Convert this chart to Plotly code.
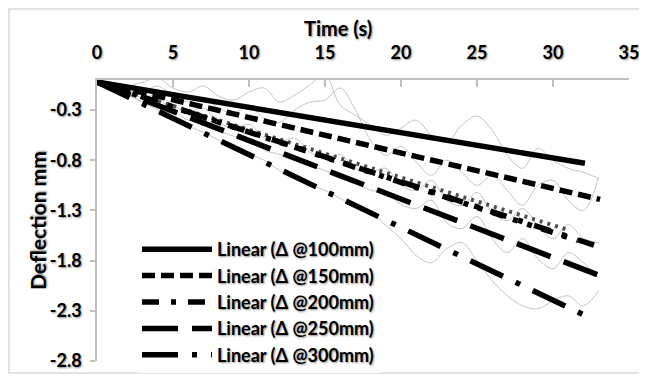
import plotly.graph_objects as go

# ---- data ----
times = [0, 1, 2, 3, 4, 5, 6, 7, 8, 9, 10, 11, 12, 13, 14, 15, 16,
         17, 18, 19, 20, 21, 22, 23, 24, 25, 26, 27, 28, 29, 30, 31, 32, 33]

raw_100 = [0.00, -0.03, -0.06, -0.02, 0.02, -0.08, -0.12, -0.06, -0.16, -0.20, -0.12, -0.08,
           -0.22, -0.15, -0.05, 0.05, -0.25, -0.35, -0.45, -0.55, -0.48, -0.40, -0.55, -0.62,
           -0.45, -0.36, -0.50, -0.75, -0.88, -0.68, -0.80, -0.88, -0.92, -0.98]
raw_150 = [0.00, -0.04, -0.08, -0.12, -0.06, -0.16, -0.22, -0.18, -0.28, -0.33, -0.26, -0.38,
           -0.42, -0.30, -0.22, -0.20, -0.08, -0.30, -0.60, -0.75, -0.66, -0.82, -0.95, -0.80,
           -0.92, -1.05, -0.95, -1.10, -1.25, -1.05, -1.00, -1.20, -1.30, -0.97]
raw_200 = [0.00, -0.05, -0.10, -0.18, -0.14, -0.25, -0.32, -0.28, -0.42, -0.48, -0.44, -0.58,
           -0.62, -0.58, -0.72, -0.78, -0.74, -0.88, -0.92, -0.88, -1.05, -1.10, -1.00, -1.20,
           -1.25, -1.12, -1.32, -1.40, -1.28, -1.45, -1.58, -1.44, -1.58, -1.62]
raw_250 = [0.00, -0.06, -0.12, -0.22, -0.20, -0.30, -0.40, -0.42, -0.50, -0.56, -0.58, -0.70,
           -0.74, -0.80, -0.86, -0.90, -0.98, -1.02, -1.10, -1.12, -1.24, -1.28, -1.20, -1.42,
           -1.48, -1.36, -1.58, -1.72, -1.58, -1.78, -1.88, -1.72, -1.82, -1.97]
raw_300 = [0.00, -0.08, -0.15, -0.22, -0.30, -0.38, -0.46, -0.52, -0.60, -0.68, -0.74, -0.80,
           -0.90, -0.96, -1.04, -1.10, -1.18, -1.26, -1.32, -1.45, -1.58, -1.75, -1.82, -1.68,
           -1.62, -1.80, -2.00, -2.15, -2.25, -2.28, -2.20, -2.15, -2.25, -2.10]

trend_names = ["Linear (Δ @100mm)", "Linear (Δ @150mm)", "Linear (Δ @200mm)",
               "Linear (Δ @250mm)", "Linear (Δ @300mm)"]
trend_x_end = [32.1, 33.1, 33.0, 33.1, 32.3]
trend_y_start = [-0.02, -0.02, -0.02, -0.02, -0.02]
trend_y_end = [-0.83, -1.19, -1.66, -1.95, -2.36]

extra_x_end = [30.9, 31.6]
extra_y_end = [-1.49, -1.60]

x_ticks = [0, 5, 10, 15, 20, 25, 30, 35]
y_ticks = [-2.8, -2.3, -1.8, -1.3, -0.8, -0.3]
y_tick_text = ["-2.8", "-2.3", "-1.8", "-1.3", "-0.8", "-0.3"]

# ---- figure ----
FONT = "Lato"
FS = 18
SHADOW = "1px 1px 2px rgba(0,0,0,0.45)"

fig = go.Figure()

for series in [raw_100, raw_150, raw_200, raw_250, raw_300]:
    fig.add_trace(go.Scatter(x=times, y=series, mode="lines",
                             line=dict(color="#c4c4c4", width=1, shape="spline", smoothing=1),
                             showlegend=False, hoverinfo="skip"))

# hidden extra trend lines
extra_styles = [dict(color="#505050", width=4, dash="3px,5px"),
                dict(color="black", width=5.5, dash="12px,10px,5px,10px,5px,10px")]
for xe, ye, st in zip(extra_x_end, extra_y_end, extra_styles):
    fig.add_trace(go.Scatter(x=[0, xe], y=[-0.02, ye], mode="lines", line=st,
                             showlegend=False, hoverinfo="skip"))

dashes = ["solid", "13px,6px", "17px,12px,5px,12px", "36px,14px", "36px,14px,5px,14px"]
for name, xe, ys, ye, d in zip(trend_names, trend_x_end, trend_y_start, trend_y_end, dashes):
    fig.add_trace(go.Scatter(x=[0, xe], y=[ys, ye], mode="lines", name=name,
                             line=dict(color="black", width=5.5, dash=d)))

# page offset of the figure inside the browser (default body margin)
OFF = 8
W, H = 647 - OFF, 376 - OFF
L, T = 97 - OFF, 80 - OFF
R = W - (629 - OFF)
B = H - (361 - OFF)
pw, ph = W - L - R, H - T - B


def px(x_page):
    return (x_page - OFF - L) / pw


def py(y_page):
    return (T + ph - (y_page - OFF)) / ph


fig.update_layout(
    width=W, height=H,
    margin=dict(l=L, r=R, t=T, b=B, autoexpand=False),
    paper_bgcolor="white", plot_bgcolor="white",
    font=dict(family=FONT, size=FS, color="black", weight="bold", shadow=SHADOW),
    xaxis=dict(range=[0, 35], side="top", tickvals=x_ticks, ticks="inside", ticklen=7,
               tickcolor="#bfbfbf", tickwidth=1.5, showline=True, linecolor="#bfbfbf",
               linewidth=1.5, showgrid=False, zeroline=False, ticklabelstandoff=12,
               automargin=False,
               tickfont=dict(family=FONT, size=FS, weight="bold", shadow=SHADOW)),
    yaxis=dict(range=[-2.8, 0], tickvals=y_ticks, ticktext=y_tick_text, ticks="outside",
               ticklen=5, tickcolor="#bfbfbf", tickwidth=1.5, showline=True,
               linecolor="#bfbfbf", linewidth=1.5, showgrid=False, zeroline=False,
               ticklabelstandoff=5, automargin=False,
               tickfont=dict(family=FONT, size=FS, weight="bold", shadow=SHADOW)),
    legend=dict(x=px(137), y=py(231), xanchor="left", yanchor="top",
                bgcolor="white", borderwidth=0, itemwidth=70, tracegroupgap=0,
                font=dict(family=FONT, size=FS, weight="bold", shadow=SHADOW)),
    showlegend=True,
)

fig.add_annotation(text="Time (s)", xref="paper", yref="paper",
                   x=px(338), y=py(28), showarrow=False,
                   xanchor="center", yanchor="middle",
                   font=dict(family=FONT, size=20, weight="bold", shadow=SHADOW))
fig.add_annotation(text="Deflection mm", xref="paper", yref="paper",
                   x=px(37), y=py(221), showarrow=False, textangle=-90,
                   xanchor="center", yanchor="middle",
                   font=dict(family=FONT, size=21, weight="bold", shadow=SHADOW))

fig.add_shape(type="rect", xref="paper", yref="paper",
              x0=px(9), x1=px(644), y0=py(373), y1=py(9),
              line=dict(color="#d9d9d9", width=1.5), layer="below")

fig.write_html("out.html")
